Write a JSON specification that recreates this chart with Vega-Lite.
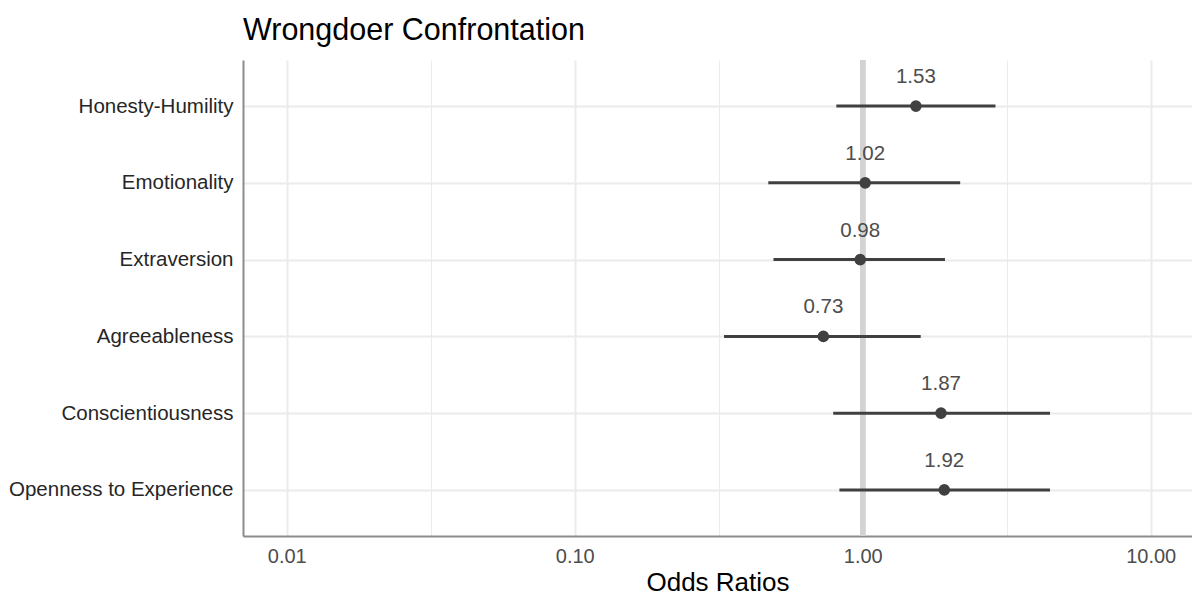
{
  "$schema": "https://vega.github.io/schema/vega-lite/v6.json",
  "width": 949,
  "height": 476,
  "autosize": {"type": "none"},
  "padding": {"left": 243, "top": 60, "right": 0, "bottom": 61},
  "background": "white",
  "title": {
    "text": "Wrongdoer Confrontation",
    "anchor": "start",
    "frame": "group",
    "font": "Liberation Sans",
    "fontSize": 30.5,
    "fontWeight": "normal",
    "color": "#000000",
    "baseline": "alphabetic",
    "offset": -13
  },
  "config": {"view": {"stroke": null}, "font": "Liberation Sans"},
  "data": {
    "values": [
      {"trait": "Honesty-Humility", "or": 1.53, "lower": 0.81, "upper": 2.89},
      {"trait": "Emotionality", "or": 1.02, "lower": 0.47, "upper": 2.18},
      {"trait": "Extraversion", "or": 0.98, "lower": 0.49, "upper": 1.93},
      {"trait": "Agreeableness", "or": 0.73, "lower": 0.33, "upper": 1.59},
      {"trait": "Conscientiousness", "or": 1.87, "lower": 0.79, "upper": 4.47},
      {"trait": "Openness to Experience", "or": 1.92, "lower": 0.83, "upper": 4.47}
    ]
  },
  "layer": [
    {
      "mark": {"type": "rule", "color": "#d3d3d3", "strokeWidth": 5},
      "encoding": {"x": {"datum": 1, "type": "quantitative"}}
    },
    {
      "mark": {"type": "rule", "color": "#404040", "strokeWidth": 3},
      "encoding": {
        "y": {
          "field": "trait",
          "type": "nominal",
          "sort": ["Honesty-Humility", "Emotionality", "Extraversion", "Agreeableness", "Conscientiousness", "Openness to Experience"],
          "scale": {"type": "point", "padding": 0.6},
          "axis": {
            "title": null,
            "ticks": false,
            "grid": true,
            "gridColor": "#ebebeb",
            "gridWidth": 2,
            "domainColor": "#8c8c8c",
            "domainWidth": 2,
            "labelFontSize": 20.5,
            "labelColor": "#262626",
            "labelPadding": 10,
            "labelLimit": 400,
            "labelFont": "Liberation Sans"
          }
        },
        "x": {
          "field": "lower",
          "type": "quantitative",
          "scale": {"type": "log", "domain": [0.00705, 13.91], "nice": false, "clamp": false},
          "axis": {
            "values": [0.01, 0.0316228, 0.1, 0.316228, 1, 3.16228, 10],
            "labelExpr": "abs(log(datum.value)/LN10 - round(log(datum.value)/LN10)) < 0.01 ? format(datum.value, '.2f') : ''",
            "grid": true,
            "gridColor": "#ebebeb",
            "gridWidth": {"condition": {"test": "abs(log(datum.value)/LN10 - round(log(datum.value)/LN10)) < 0.01", "value": 2}, "value": 1},
            "ticks": false,
            "domainColor": "#8c8c8c",
            "domainWidth": 2,
            "labelFontSize": 20,
            "labelColor": "#4d4d4d",
            "labelPadding": 10,
            "labelFlush": false,
            "labelOverlap": false,
            "labelFont": "Liberation Sans",
            "title": "Odds Ratios",
            "titleFontSize": 26,
            "titleFontWeight": "normal",
            "titleColor": "#000000",
            "titlePadding": 3,
            "titleFont": "Liberation Sans"
          }
        },
        "x2": {"field": "upper"}
      }
    },
    {
      "mark": {"type": "circle", "color": "#404040", "opacity": 1, "size": 135},
      "encoding": {
        "y": {"field": "trait", "type": "nominal", "sort": ["Honesty-Humility", "Emotionality", "Extraversion", "Agreeableness", "Conscientiousness", "Openness to Experience"]},
        "x": {"field": "or", "type": "quantitative"}
      }
    },
    {
      "mark": {"type": "text", "color": "#4d4d4d", "fontSize": 20.5, "baseline": "alphabetic", "align": "center", "dy": -23, "font": "Liberation Sans"},
      "encoding": {
        "y": {"field": "trait", "type": "nominal", "sort": ["Honesty-Humility", "Emotionality", "Extraversion", "Agreeableness", "Conscientiousness", "Openness to Experience"]},
        "x": {"field": "or", "type": "quantitative"},
        "text": {"field": "or", "type": "quantitative", "format": ".2f"}
      }
    }
  ]
}
